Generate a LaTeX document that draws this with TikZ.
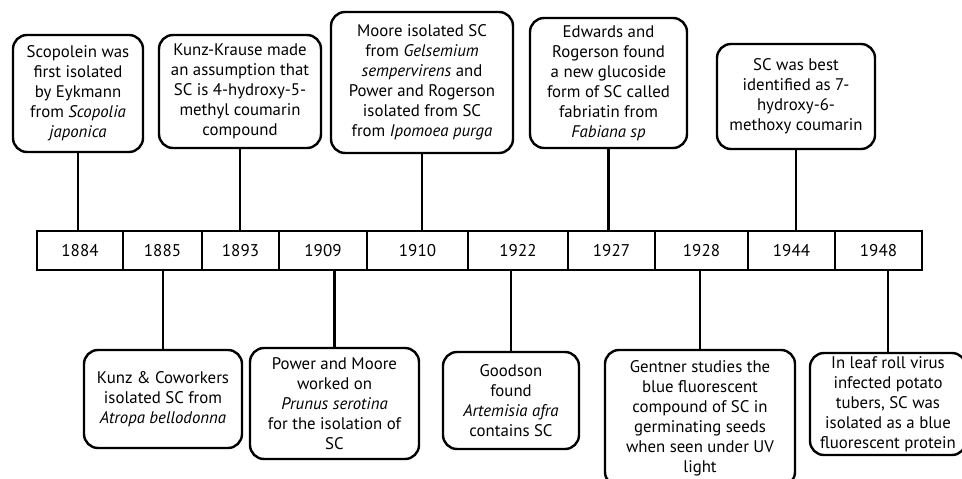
\documentclass[tikz,border=0pt]{standalone}
\usepackage{fontspec}
\setmainfont{PT Sans}
\begin{document}
\begin{tikzpicture}[x=1pt,y=-1pt,
  evbox/.style={draw, line width=2.4pt, rounded corners=14pt, align=center, inner sep=0pt, fill=white,
    font=\fontsize{16.8}{20}\selectfont},
  yearcell/.style={draw, line width=2.4pt, inner sep=0pt, minimum height=39pt,
    font=\fontsize{17}{20}\selectfont},
  conn/.style={line width=2.8pt}]
\useasboundingbox (0,0) rectangle (962,479);
% timeline cells
\node[yearcell, minimum width=86pt] (y1884) at (80,250.5) {1884};
\node[yearcell, minimum width=79pt] (y1885) at (162.5,250.5) {1885};
\node[yearcell, minimum width=77pt] (y1893) at (240.5,250.5) {1893};
\node[yearcell, minimum width=88pt] (y1909) at (323,250.5) {1909};
\node[yearcell, minimum width=101pt] (y1910) at (417.5,250.5) {1910};
\node[yearcell, minimum width=100pt] (y1922) at (518,250.5) {1922};
\node[yearcell, minimum width=87pt] (y1927) at (611.5,250.5) {1927};
\node[yearcell, minimum width=93pt] (y1928) at (701.5,250.5) {1928};
\node[yearcell, minimum width=87pt] (y1944) at (791.5,250.5) {1944};
\node[yearcell, minimum width=87pt] (y1948) at (878.5,250.5) {1948};
% top events
\node[evbox, minimum width=130pt, minimum height=117pt] (e1884) at (78,93.5)
  {Scopolein was\\first isolated\\by Eykmann\\from \textit{Scopolia}\\\textit{japonica}};
\node[evbox, minimum width=162pt, minimum height=113pt] (e1893) at (240,91.5)
  {Kunz-Krause made\\an assumption that\\SC is 4-hydroxy-5-\\methyl coumarin\\compound};
\node[evbox, minimum width=182pt, minimum height=141pt] (e1910) at (422,82.5)
  {Moore isolated SC\\from \textit{Gelsemium}\\\textit{sempervirens} and\\Power and Rogerson\\isolated from SC\\from \textit{Ipomoea purga}};
\node[evbox, minimum width=157pt, minimum height=130pt] (e1927) at (608.5,83)
  {Edwards and\\Rogerson found\\a new glucoside\\form of SC called\\fabriatin from\\\textit{Fabiana sp}};
\node[evbox, minimum width=158pt, minimum height=105pt] (e1944) at (796,96.5)
  {SC was best\\identified as 7-\\hydroxy-6-\\methoxy coumarin};
% bottom events
\node[evbox, minimum width=158pt, minimum height=98pt] (e1885) at (163,399)
  {Kunz \& Coworkers\\isolated SC from\\\textit{Atropa bellodonna}};
\node[evbox, minimum width=169pt, minimum height=111pt] (e1909) at (334.5,403.5)
  {Power and Moore\\worked on\\\textit{Prunus serotina}\\for the isolation of\\SC};
\node[evbox, minimum width=136pt, minimum height=97pt] (e1922) at (511,400.5)
  {Goodson\\found\\\textit{Artemisia afra}\\contains SC};
\node[evbox, minimum width=190pt, minimum height=136pt] (e1928) at (700,418)
  {Gentner studies the\\blue fluorescent\\compound of SC in\\germinating seeds\\when seen under UV\\light};
\node[evbox, minimum width=156pt, minimum height=102pt] (e1948) at (888,404)
  {In leaf roll virus\\infected potato\\tubers, SC was\\isolated as a blue\\fluorescent protein};
% connectors
\foreach \e/\y in {1884/1884,1893/1893,1910/1910,1927/1927,1944/1944}{
  \draw[conn] (e\e.south) -- (e\e.south |- y\y.north);
}
\foreach \e/\y in {1885/1885,1909/1909,1922/1922,1928/1928,1948/1948}{
  \draw[conn] (e\e.north) -- (e\e.north |- y\y.south);
}
\end{tikzpicture}
\end{document}
